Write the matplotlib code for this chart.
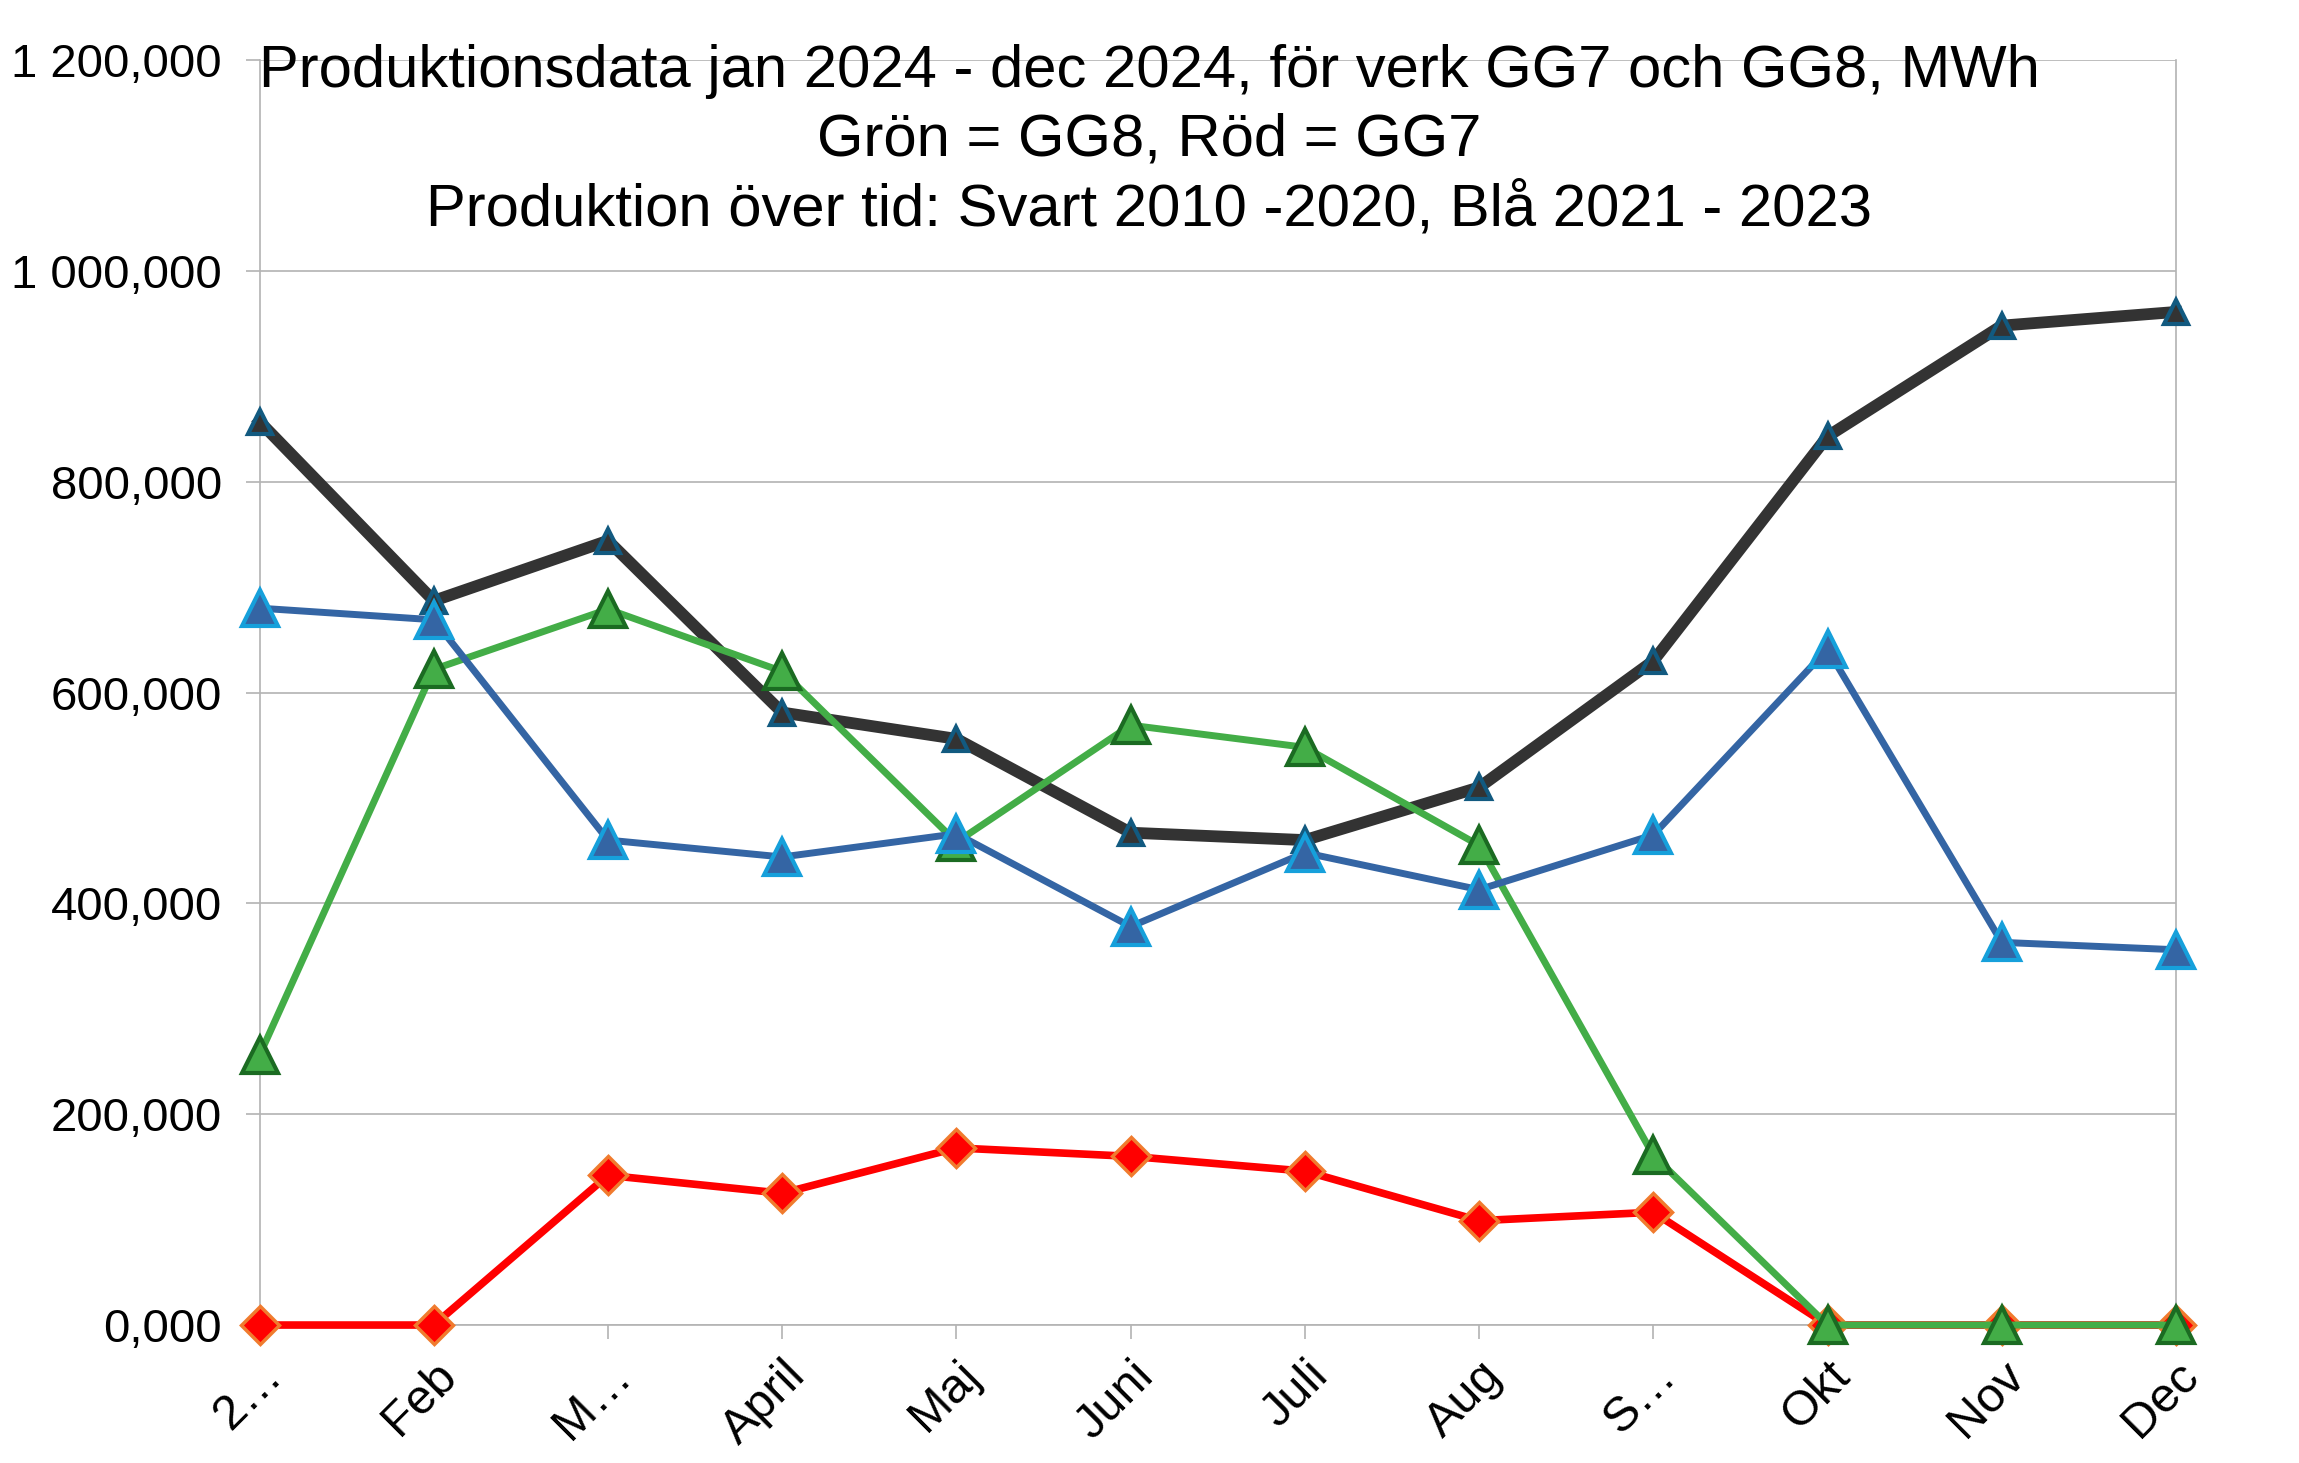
import matplotlib
matplotlib.use("Agg")
import matplotlib.pyplot as plt
from matplotlib.ticker import FuncFormatter, MultipleLocator

plt.rcParams["font.family"] = ["Liberation Sans", "DejaVu Sans"]

# --- data (MWh) -------------------------------------------------------------
months = ["2…", "Feb", "M…", "April", "Maj", "Juni", "Juli", "Aug", "S…",
          "Okt", "Nov", "Dec"]
svart_2010_2020 = [857, 687, 744, 581, 556, 467, 460, 510, 630, 843, 948, 961]
bla_2021_2023 = [680, 669, 460, 444, 466, 378, 448, 413, 465, 641, 363, 356]
gg8_gron = [256, 622, 679, 620, 458, 569, 548, 455, 161, 0, 0, 0]
gg7_rod = [0, 0, 142, 125, 168, 160, 146, 99, 107, 0, 0, 0]

title = ("Produktionsdata jan 2024 - dec 2024, för verk GG7 och GG8, MWh\n"
         "Grön = GG8, Röd = GG7\n"
         "Produktion över tid: Svart 2010 -2020, Blå 2021 - 2023")

GRID = "#b3b3b3"


def sv_format(v, _pos):
    # Swedish style: space as thousands separator, comma as decimal mark
    return f"{v:,.3f}".replace(",", " ").replace(".", ",")


fig = plt.figure(figsize=(22.99, 14.63), dpi=100)
ax = fig.add_axes([0.1129, 0.0943, 0.8336, 0.8647])

x = list(range(len(months)))

ax.plot(x, gg7_rod, color="#ff0000", lw=5.5, marker="D", ms=19,
        mfc="#ff0000", mec="#f07b2e", mew=2.5, zorder=3, clip_on=False)
ax.plot(x, svart_2010_2020, color="#333333", lw=8.5, marker="^", ms=17,
        mfc="#333333", mec="#125a80", mew=3, zorder=4, clip_on=False)
ax.plot(x, gg8_gron, color="#43ad47", lw=5, marker="^", ms=26,
        mfc="#43ad47", mec="#1b6b22", mew=3, zorder=5, clip_on=False)
ax.plot(x, bla_2021_2023, color="#3465a4", lw=5, marker="^", ms=26,
        mfc="#3465a4", mec="#16a0db", mew=3, zorder=6, clip_on=False)

# --- axes ----------------------------------------------------------------
ax.set_xlim(0, len(months) - 1)
ax.set_ylim(0, 1200)
ax.yaxis.set_major_locator(MultipleLocator(200))
ax.yaxis.set_major_formatter(FuncFormatter(sv_format))
ax.set_xticks(x)
ax.set_xticklabels(months, rotation=45, ha="right", rotation_mode="anchor")

ax.grid(axis="y", color=GRID, lw=1.2)
ax.set_axisbelow(True)
for side in ("left", "right", "bottom"):
    ax.spines[side].set_color(GRID)
    ax.spines[side].set_linewidth(1.2)
ax.spines["top"].set_visible(False)

ax.tick_params(axis="both", direction="out", length=10, width=1.2,
               color=GRID, labelcolor="black")
ax.tick_params(axis="y", pad=17, labelsize=34)
ax.tick_params(axis="x", pad=10, labelsize=35)

fig.text(0.5, 1 - 44 / 1463, title, ha="center", va="top", fontsize=43,
         linespacing=1.32)

fig.savefig("out.png", dpi=100)
